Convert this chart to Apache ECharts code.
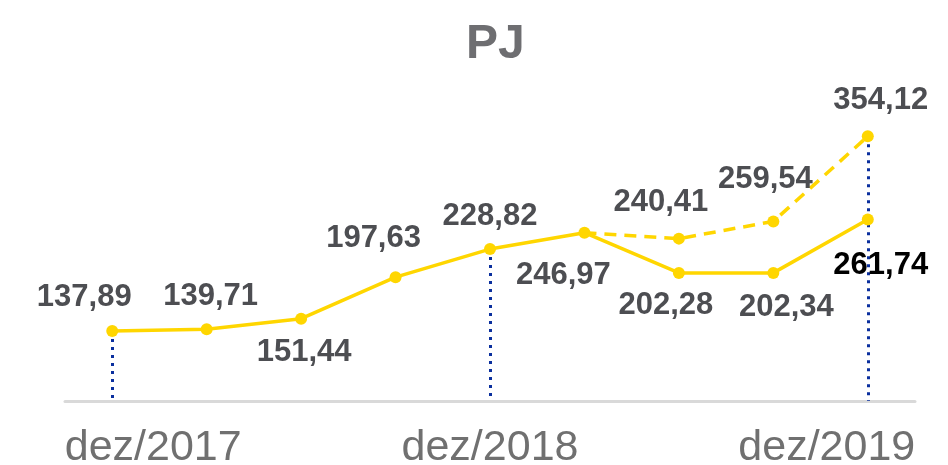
<!DOCTYPE html>
<html>
<head>
<meta charset="utf-8">
<script src="https://cdn.jsdelivr.net/npm/echarts@6/dist/echarts.min.js"></script>
<style>
html,body{margin:0;padding:0;background:#fff;}
#chart{width:948px;height:465px;}
</style>
</head>
<body>
<div id="chart"></div>
<script>
// Data
const categories = ['dez/2017','mar/2018','jun/2018','set/2018','dez/2018','mar/2019','jun/2019','set/2019','dez/2019'];
const shownTicks = ['dez/2017','dez/2018','dez/2019'];
const realized = [137.89, 139.71, 151.44, 197.63, 228.82, 246.97, 202.28, 202.34, 261.74];
const projected = [null, null, null, null, null, 246.97, 240.41, 259.54, 354.12];
const guideIdx = [0, 4, 8];

const fmt = v => v.toFixed(2).replace('.', ',');

// label placement (style only)
const realOffsets = [[-28,-33],[4,-33],[3,34],[-22,-39],[0,-33],[-21,43],[-13,33],[13,35],[13,46]];
const projOffsets = {6:[-18,-36], 7:[-8,-42], 8:[13,-36]};

const yMin = 60, yMax = 400;
const labelFont = {fontFamily:'Liberation Sans, Arial, sans-serif', fontWeight:'bold', fontSize:31, color:'#4d4e52'};
const YEL = '#FFD600';

const realData = realized.map((v,i)=>({
  value:v,
  label:Object.assign({show:true, position:'inside', offset:realOffsets[i], formatter:fmt(v)}, labelFont,
    i===8?{color:'#000000'}:{})
}));
const projData = projected.map((v,i)=>{
  if (v===null) return null;
  if (!projOffsets[i]) return {value:v, symbol:'none', label:{show:false}};
  return {value:v, label:Object.assign({show:true, position:'inside', offset:projOffsets[i], formatter:fmt(v)}, labelFont)};
});

const guideLines = guideIdx.map(i=>{
  const top = Math.max(realized[i], projected[i]===null ? -Infinity : projected[i]);
  return [{coord:[i, top]},{coord:[i, yMin]}];
});

const chart = echarts.init(document.getElementById('chart'), null, {renderer:'canvas'});
chart.setOption({
  animation:false,
  backgroundColor:'#ffffff',
  title:{
    text:'PJ', left:461, top:16,
    textStyle:{fontFamily:'Liberation Sans, Arial, sans-serif', fontWeight:'bold', fontSize:48, color:'#6e6e71'}
  },
  grid:{left:65, right:33, top:95, bottom:64, containLabel:false, outerBoundsMode:'none'},
  xAxis:{
    type:'category',
    data:categories,
    boundaryGap:true,
    axisLine:{show:true, lineStyle:{color:'#d9d9d9', width:3}},
    axisTick:{show:false},
    axisLabel:{
      interval:0,
      margin:26,
      formatter:(val)=>{
        if (!shownTicks.includes(val)) return '';
        if (val===shownTicks[0]) return '{l|'+val+'}';
        if (val===shownTicks[shownTicks.length-1]) return '{r|'+val+'}';
        return '{c|'+val+'}';
      },
      rich:{
        l:{fontFamily:'Liberation Sans, Arial, sans-serif', fontSize:43, color:'#707070', padding:[0,0,0,82]},
        c:{fontFamily:'Liberation Sans, Arial, sans-serif', fontSize:43, color:'#707070'},
        r:{fontFamily:'Liberation Sans, Arial, sans-serif', fontSize:43, color:'#707070', padding:[0,82,0,0]}
      }
    }
  },
  yAxis:{
    type:'value', min:yMin, max:yMax,
    show:false,
    splitLine:{show:false}
  },
  series:[
    {
      type:'line',
      data:realData,
      symbol:'circle', symbolSize:12,
      itemStyle:{color:YEL},
      lineStyle:{color:YEL, width:3.5},
      z:3,
      markLine:{
        silent:true, symbol:'none',
        label:{show:false},
        lineStyle:{color:'#0a2f9e', type:[3,5], width:3, cap:'butt'},
        data:guideLines,
        z:2
      }
    },
    {
      type:'line',
      data:projData,
      symbol:'circle', symbolSize:12,
      itemStyle:{color:YEL},
      lineStyle:{color:YEL, width:3.5, type:[12,8]},
      z:3
    }
  ]
});
</script>
</body>
</html>
